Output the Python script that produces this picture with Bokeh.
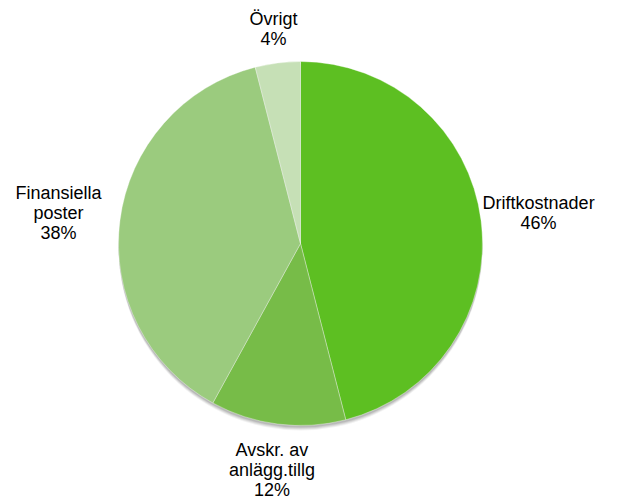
import numpy as np
import pandas as pd
from bokeh.plotting import figure
from bokeh.models import ColumnDataSource, Range1d
from bokeh.core.properties import value
from bokeh.embed import file_html
from bokeh.resources import INLINE

# ---- data ----
categories = ["Driftkostnader", "Avskr. av\nanlägg.tillg", "Finansiella\nposter", "Övrigt"]
shares = [46, 12, 38, 4]
pct_labels = ["46%", "12%", "38%", "4%"]
colors = ["#5dbf22", "#77bc48", "#9bcb7e", "#c6e0b6"]

# ---- layout / style ----
W, H = 618, 500
cx, cy, R = 300, 257, 182
label_dist = [240, 228, 244, 216]

df = pd.DataFrame({"cat": categories, "share": shares, "pct": pct_labels, "color": colors})
frac = df["share"] / df["share"].sum()
cum = frac.cumsum()
# clockwise from 12 o'clock
df["start"] = np.pi / 2 - 2 * np.pi * (cum - frac)
df["end"] = np.pi / 2 - 2 * np.pi * cum
mid = (df["start"] + df["end"]) / 2
df["lx"] = cx + np.array(label_dist) * np.cos(mid)
df["ly"] = cy + np.array(label_dist) * np.sin(mid)
df["label"] = df["cat"] + "\n" + df["pct"]
src = ColumnDataSource(df)

p = figure(width=W, height=H, output_backend="svg", toolbar_location=None,
           x_range=Range1d(0, W), y_range=Range1d(0, H), min_border=0)
p.axis.visible = False
p.grid.visible = False
p.outline_line_color = None
p.background_fill_color = "white"

# soft shadow
for off, a in [(5, 0.05), (4, 0.07), (3, 0.08), (2, 0.1)]:
    p.circle(x=[cx], y=[cy - off], radius=R, fill_color="#000000", fill_alpha=a, line_color=None)

p.wedge(x=cx, y=cy, radius=R, start_angle="start", end_angle="end", direction="clock",
        fill_color="color", line_color="white", line_alpha=0.35, line_width=1, source=src)

p.text(x="lx", y="ly", text="label", source=src, text_align="center", text_baseline="middle",
       text_font=value("Liberation Sans"), text_font_size="18px", text_color="#000000",
       text_line_height=1.0)

open("out.html", "w").write(file_html(p, INLINE))
